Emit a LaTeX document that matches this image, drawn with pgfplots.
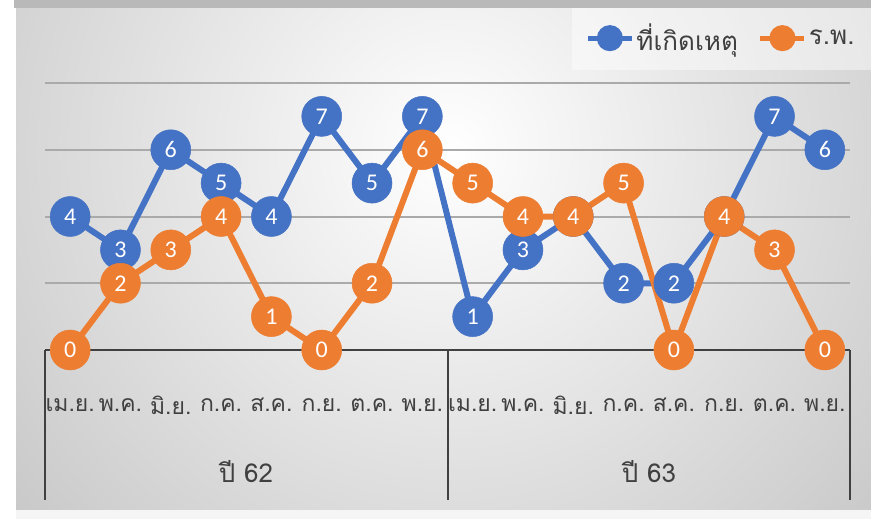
\documentclass[border=0pt]{standalone}
\usepackage{pgfplots}
\pgfplotsset{compat=1.18}
\usepackage{fontspec}
\setmainfont{Carlito}
\newfontfamily\thaifont[Script=Thai]{Loma}
\definecolor{cblue}{RGB}{68,114,196}
\definecolor{corange}{RGB}{237,125,49}
\definecolor{ctext}{RGB}{64,64,64}
\definecolor{cgrid}{RGB}{170,170,170}
\begin{document}
\begin{tikzpicture}
\useasboundingbox (0bp,0bp) rectangle (871bp,519bp);
\fill[white] (0bp,0bp) rectangle (871bp,519bp);
\begin{scope}
\clip (16bp,9bp) rectangle (871bp,511bp);
\shade[inner color=white, outer color=gray!45] (-150bp,-231bp) rectangle (1050bp,969bp);
\end{scope}
\fill[gray!55] (14bp,511bp) rectangle (871bp,519bp);
\fill[gray!8] (16bp,0bp) rectangle (871bp,9bp);
\fill[white,opacity=0.45] (572bp,449bp) rectangle (871bp,511bp);
% category axis
\draw[ctext, line width=2.5bp] (45bp,169bp) -- (850bp,169bp);
\draw[ctext, line width=2.5bp] (45bp,169bp) -- (45bp,19bp);
\draw[ctext, line width=2.5bp] (448bp,169bp) -- (448bp,19bp);
\draw[ctext, line width=2.5bp] (850bp,169bp) -- (850bp,19bp);
\node[font=\thaifont\fontsize{26bp}{30bp}\selectfont, text=ctext] at (246bp,47bp) {ปี 62};
\node[font=\thaifont\fontsize{26bp}{30bp}\selectfont, text=ctext] at (649bp,47bp) {ปี 63};
\begin{axis}[
  at={(45bp,169bp)}, anchor=south west,
  scale only axis, width=805bp, height=267bp,
  xmin=-0.5, xmax=15.5, ymin=0, ymax=8,
  clip=false,
  axis line style={draw=none},
  ytick={2,4,6,8}, yticklabels={},
  ymajorgrids, grid style={cgrid, line width=2bp},
  xtick={0,...,15},
  xticklabels={เม.ย.,พ.ค.,มิ.ย.,ก.ค.,ส.ค.,ก.ย.,ต.ค.,พ.ย.,เม.ย.,พ.ค.,มิ.ย.,ก.ค.,ส.ค.,ก.ย.,ต.ค.,พ.ย.},
  xticklabel style={font=\thaifont\fontsize{23bp}{26bp}\selectfont, text=ctext, anchor=center, yshift=-55bp},
  major tick length=0pt,
  /pgf/number format/assume math mode=true,
  legend columns=2,
  legend style={at={(1.012,1.168)}, anchor=east, draw=none, fill=none,
    font=\thaifont\fontsize{26bp}{30bp}\selectfont, text=ctext,
    /tikz/every even column/.append style={column sep=18bp}},
  legend image code/.code={\draw[#1, line width=5bp, mark=none] (0bp,0bp) -- (44bp,0bp);
     \fill[#1] (22bp,0bp) circle (10bp);},
  every node near coord/.append style={anchor=center, text=white, font=\fontsize{24bp}{26bp}\selectfont},
]
\addplot[cblue, line width=6bp, mark=*, mark size=20bp, mark options={fill=cblue, draw=cblue, line width=0.5bp}, nodes near coords]
coordinates {(0,4) (1,3) (2,6) (3,5) (4,4) (5,7) (6,5) (7,7) (8,1) (9,3) (10,4) (11,2) (12,2) (13,4) (14,7) (15,6)};
\addlegendentry{ที่เกิดเหตุ}
\addplot[corange, line width=6bp, mark=*, mark size=20bp, mark options={fill=corange, draw=corange, line width=0.5bp}, nodes near coords]
coordinates {(0,0) (1,2) (2,3) (3,4) (4,1) (5,0) (6,2) (7,6) (8,5) (9,4) (10,4) (11,5) (12,0) (13,4) (14,3) (15,0)};
\addlegendentry{ร.พ.}
\end{axis}
\end{tikzpicture}
\end{document}
